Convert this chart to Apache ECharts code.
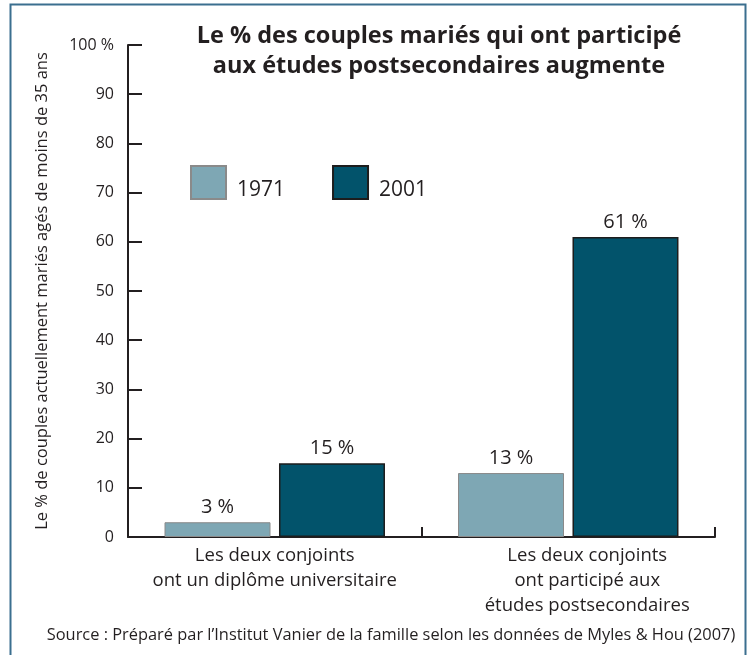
<!DOCTYPE html>
<html>
<head>
<meta charset="utf-8">
<script src="https://cdn.jsdelivr.net/npm/echarts@6/dist/echarts.min.js"></script>
<style>
  html, body { margin: 0; padding: 0; background: #fff; }
  #chart { width: 752px; height: 655px; }
</style>
</head>
<body>
<div id="chart"></div>
<script>
  // data
  const categories = [
    'Les deux conjoints\nont un diplôme universitaire',
    'Les deux conjoints\nont participé aux\nétudes postsecondaires',
  ];
  const years = ['1971', '2001'];
  const values1971 = [3, 13];
  const values2001 = [15, 61];
  const yTicks = [0, 10, 20, 30, 40, 50, 60, 70, 80, 90, 100];

  const font = '"Open Sans", "Noto Sans", sans-serif';
  const ink = '#231f20';

  const chart = echarts.init(document.getElementById('chart'));

  const barLabel = {
    show: true,
    position: 'top',
    distance: 5,
    formatter: '{c} %',
    fontFamily: font,
    fontSize: 20,
    color: ink,
  };

  const option = {
    backgroundColor: '#fff',
    textStyle: { fontFamily: font },
    graphic: [
      {
        type: 'rect',
        shape: { x: 10.5, y: 4.5, width: 735, height: 700 },
        style: { fill: 'none', stroke: '#3b6f8f', lineWidth: 2 },
        silent: true,
      },
    ],
    title: [
      {
        text: 'Le % des couples mariés qui ont participé\naux études postsecondaires augmente',
        left: 434,
        top: 16,
        textAlign: 'center',
        textStyle: {
          fontFamily: font,
          fontSize: 23.5,
          fontWeight: 'bold',
          color: ink,
          lineHeight: 30,
        },
      },
      {
        text: 'Source : Préparé par l’Institut Vanier de la famille selon les données de Myles & Hou (2007)',
        left: 386,
        top: 622,
        textAlign: 'center',
        textStyle: {
          fontFamily: font,
          fontSize: 16.4,
          fontWeight: 'normal',
          color: ink,
        },
      },
    ],
    legend: {
      data: years,
      left: 190,
      top: 165,
      padding: 0,
      icon: 'rect',
      itemWidth: 35,
      itemHeight: 33,
      itemGap: 47,
      formatter: (name) => '{y|' + name + '}',
      textStyle: {
        fontFamily: font,
        fontSize: 21,
        color: ink,
        rich: {
          y: { fontFamily: font, fontSize: 21, color: ink, padding: [16, 0, 0, 6] },
        },
      },
    },
    grid: {
      left: 128,
      right: 37,
      top: 45,
      bottom: 118,
    },
    xAxis: {
      type: 'category',
      data: categories,
      axisLine: { lineStyle: { color: ink, width: 2 } },
      axisTick: {
        show: true,
        inside: true,
        length: 10,
        lineStyle: { color: ink, width: 2 },
      },
      axisLabel: {
        color: ink,
        fontFamily: font,
        fontSize: 18.5,
        lineHeight: 25,
        margin: 6,
        interval: 0,
        formatter: (v, i) => (i === 1 ? '{b|' + v.split('\n').join('}\n{b|') + '}' : v),
        rich: {
          b: { fontFamily: font, fontSize: 18.5, lineHeight: 25, color: ink, padding: [0, 0, 0, 38] },
        },
      },
    },
    yAxis: {
      type: 'value',
      min: yTicks[0],
      max: yTicks[yTicks.length - 1],
      interval: 10,
      name: 'Le % de couples actuellement mariés agés de moins de 35 ans',
      nameLocation: 'middle',
      nameRotate: 90,
      nameGap: 77,
      nameTextStyle: { fontFamily: font, fontSize: 16.5, color: ink },
      axisLine: { show: true, lineStyle: { color: ink, width: 2 } },
      axisTick: {
        show: true,
        inside: true,
        length: 14,
        lineStyle: { color: ink, width: 2 },
      },
      splitLine: { show: false },
      axisLabel: {
        color: ink,
        fontFamily: font,
        fontSize: 16,
        margin: 14,
        formatter: (v) => (v === 100 ? '100 %' : String(v)),
      },
    },
    series: [
      {
        name: years[0],
        type: 'bar',
        data: values1971,
        barWidth: 106,
        barGap: '8%',
        itemStyle: { color: '#7ea7b4', borderColor: '#8a8a8a', borderWidth: 1 },
        label: barLabel,
      },
      {
        name: years[1],
        type: 'bar',
        data: values2001,
        barWidth: 106,
        itemStyle: { color: '#02536b', borderColor: '#1d1d1d', borderWidth: 1.5 },
        label: barLabel,
      },
    ],
  };

  chart.setOption(option);
</script>
</body>
</html>
